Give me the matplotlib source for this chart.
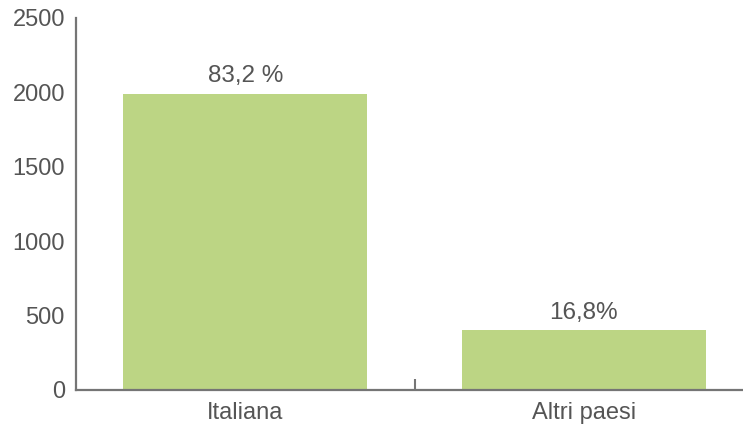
import matplotlib.pyplot as plt

plt.rcParams['font.family'] = ['Liberation Sans', 'DejaVu Sans']

# dati
categorie = ['Italiana', 'Altri paesi']
valori = [1990, 400]
etichette = ['83,2 %', '16,8%']

colore_barre = '#bcd584'
grigio = '#555555'
grigio_assi = '#757575'

fig = plt.figure(figsize=(7.43, 4.25), dpi=100)
ax = fig.add_axes([76 / 743, 35 / 425, 667 / 743, 372 / 425])

x = range(len(categorie))
barre = ax.bar(x, valori, width=0.72, color=colore_barre, zorder=2)

# percentuali sopra le barre
for b, testo in zip(barre, etichette):
    ax.annotate(testo, (b.get_x() + b.get_width() / 2, b.get_height()),
                xytext=(0, 5), textcoords='offset points',
                ha='center', va='bottom', fontsize=17.5, color=grigio)

ax.set_xlim(-0.5, 1.47)
ax.set_ylim(0, 2500)
ax.set_yticks([0, 500, 1000, 1500, 2000, 2500])
ax.set_xticks(list(x))
ax.set_xticklabels(categorie)
ax.set_xticks([0.5], minor=True)

ax.tick_params(axis='y', length=0, pad=8, labelsize=17, labelcolor=grigio)
ax.tick_params(axis='x', which='major', length=0, pad=8.5, labelsize=17, labelcolor=grigio)
ax.tick_params(axis='x', which='minor', direction='in', length=8, width=1.5, color=grigio_assi)

for lato in ['top', 'right']:
    ax.spines[lato].set_visible(False)
for lato in ['left', 'bottom']:
    ax.spines[lato].set_color(grigio_assi)
    ax.spines[lato].set_linewidth(1.6)

plt.savefig('out.png', dpi=100)
